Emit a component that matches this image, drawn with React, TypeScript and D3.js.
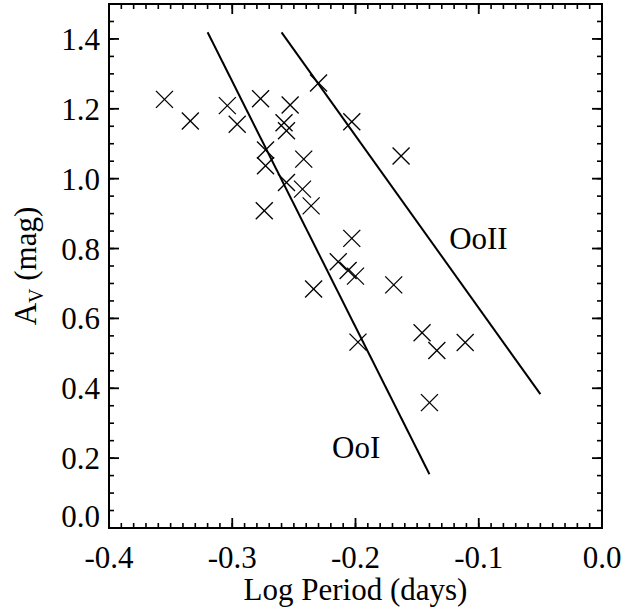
import React from "react";
import * as d3 from "d3";

const logPeriod = [
  -0.355, -0.334, -0.304, -0.296, -0.277, -0.253, -0.258, -0.256, -0.273, -0.273,
  -0.242, -0.256, -0.243, -0.236, -0.274, -0.230, -0.203, -0.163, -0.203, -0.214,
  -0.206, -0.200, -0.234, -0.198, -0.169, -0.146, -0.134, -0.111, -0.140,
];
const amplitude = [
  1.227, 1.165, 1.209, 1.156, 1.229, 1.211, 1.160, 1.137, 1.082, 1.037,
  1.056, 0.989, 0.970, 0.922, 0.908, 1.274, 1.163, 1.065, 0.829, 0.762,
  0.737, 0.721, 0.684, 0.532, 0.696, 0.559, 0.508, 0.531, 0.359,
];

const ooIline = [[-0.320, 1.419], [-0.140, 0.154]];
const ooIIline = [[-0.260, 1.419], [-0.050, 0.383]];
const lineLabels = [
  { text: "OoI", x: -0.219, y: 0.2 },
  { text: "OoII", x: -0.124, y: 0.8 },
];

const xMajor = [-0.4, -0.3, -0.2, -0.1, 0.0];
const xTickLabels = ["-0.4", "-0.3", "-0.2", "-0.1", "0.0"];
const yMajor = [0.0, 0.2, 0.4, 0.6, 0.8, 1.0, 1.2, 1.4];
const yTickLabels = ["0.0", "0.2", "0.4", "0.6", "0.8", "1.0", "1.2", "1.4"];
const xDomain = [-0.4, 0.0];
const yDomain = [0.0, 1.5];

const W = 634, H = 609;
const L = 109, R = 602, T = 4, B = 528;
const FONT = "'Liberation Serif', 'Times New Roman', serif";

export default function App() {
  const x = d3.scaleLinear().domain(xDomain).range([L, R]);
  const y = d3.scaleLinear().domain(yDomain).range([B, T]);
  const xMinor = d3.range(0, 41).map((i) => -0.4 + i * 0.01);
  const yMinor = d3.range(0, 31).map((i) => i * 0.05);
  const line = d3.line<number[]>().x((d) => x(d[0])).y((d) => y(d[1]));
  const cs = 8.5;
  const fs = 31;

  return (
    <svg width={W} height={H} style={{ position: "absolute", left: 0, top: 0, background: "#fff" }}>
      <rect x={0} y={0} width={W} height={H} fill="#fff" />
      {/* minor ticks */}
      {xMinor.map((v, i) => (
        <g key={"xm" + i} stroke="#000" strokeWidth={1.6}>
          <line x1={x(v)} x2={x(v)} y1={B} y2={B - 5} />
          <line x1={x(v)} x2={x(v)} y1={T} y2={T + 5} />
        </g>
      ))}
      {yMinor.map((v, i) => (
        <g key={"ym" + i} stroke="#000" strokeWidth={1.6}>
          <line x1={L} x2={L + 5} y1={y(v)} y2={y(v)} />
          <line x1={R} x2={R - 5} y1={y(v)} y2={y(v)} />
        </g>
      ))}
      {xMajor.map((v, i) => (
        <g key={"xM" + i} stroke="#000" strokeWidth={1.8}>
          <line x1={x(v)} x2={x(v)} y1={B} y2={B - 10} />
          <line x1={x(v)} x2={x(v)} y1={T} y2={T + 10} />
        </g>
      ))}
      {yMajor.map((v, i) => (
        <g key={"yM" + i} stroke="#000" strokeWidth={1.8}>
          <line x1={L} x2={L + 10} y1={y(v)} y2={y(v)} />
          <line x1={R} x2={R - 10} y1={y(v)} y2={y(v)} />
        </g>
      ))}
      <rect x={L} y={T} width={R - L} height={B - T} fill="none" stroke="#000" strokeWidth={2} />
      {/* tick labels */}
      {xMajor.map((v, i) => (
        <text key={"xl" + i} x={x(v)} y={568} textAnchor="middle" fontFamily={FONT} fontSize={fs} fill="#000">
          {xTickLabels[i]}
        </text>
      ))}
      {yMajor.map((v, i) => (
        <text key={"yl" + i} x={100} y={Math.min(y(v) + 11, B - 1)} textAnchor="end" fontFamily={FONT} fontSize={fs} fill="#000">
          {yTickLabels[i]}
        </text>
      ))}
      <text x={(L + R) / 2} y={600} textAnchor="middle" fontFamily={FONT} fontSize={fs} fill="#000">
        Log Period (days)
      </text>
      <text transform={`translate(36, ${(T + B) / 2}) rotate(-90)`} textAnchor="middle" fontFamily={FONT} fontSize={fs} fill="#000">
        A<tspan fontSize={20} dy={7}>V</tspan>
        <tspan dy={-7}> (mag)</tspan>
      </text>
      {/* relation lines */}
      <path d={line(ooIline) || ""} fill="none" stroke="#000" strokeWidth={2} />
      <path d={line(ooIIline) || ""} fill="none" stroke="#000" strokeWidth={2} />
      {lineLabels.map((l, i) => (
        <text key={"ll" + i} x={x(l.x)} y={y(l.y)} fontFamily={FONT} fontSize={fs} fill="#000">
          {l.text}
        </text>
      ))}
      {/* data crosses */}
      {logPeriod.map((p, i) => {
        const cx = x(p), cy = y(amplitude[i]);
        return (
          <g key={"pt" + i} stroke="#000" strokeWidth={1.3}>
            <line x1={cx - cs} y1={cy - cs} x2={cx + cs} y2={cy + cs} />
            <line x1={cx - cs} y1={cy + cs} x2={cx + cs} y2={cy - cs} />
          </g>
        );
      })}
    </svg>
  );
}
